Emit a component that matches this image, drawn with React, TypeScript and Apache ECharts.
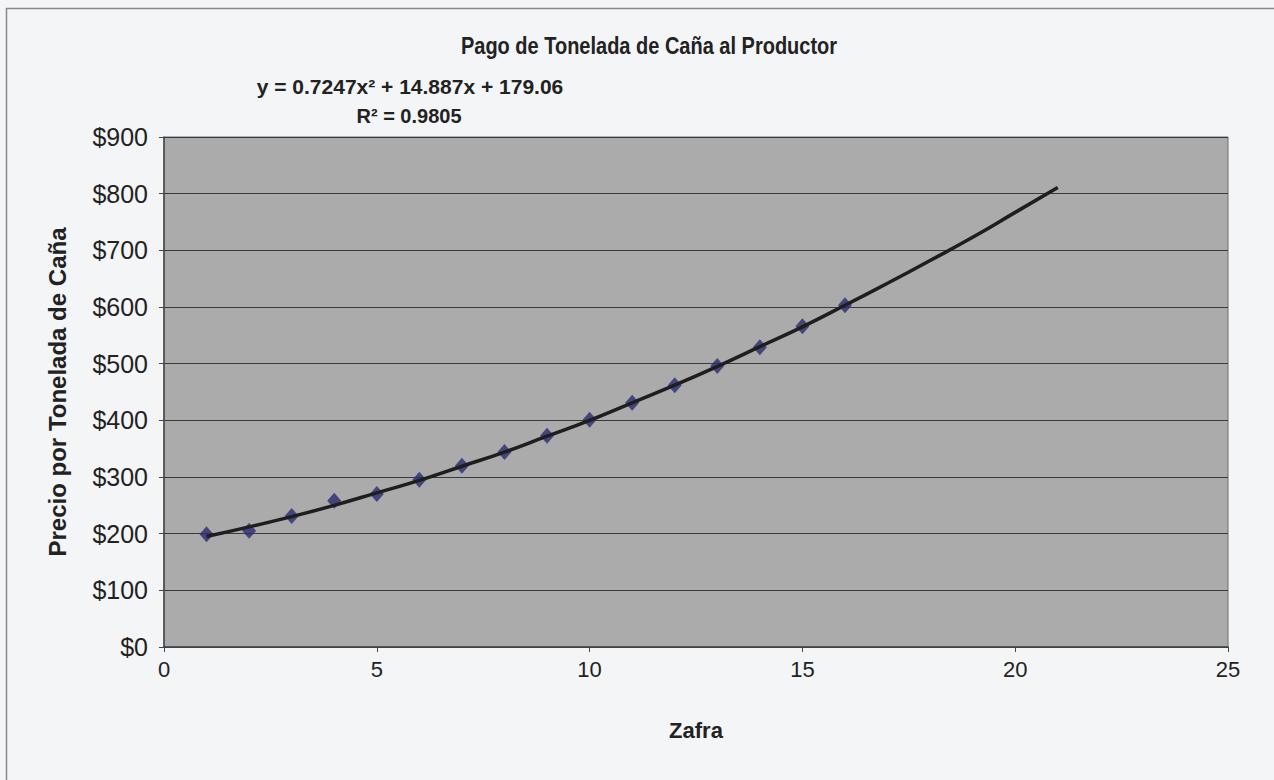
import React, { useEffect, useRef } from "react";
import * as echarts from "echarts";

const zafra = [1, 2, 3, 4, 5, 6, 7, 8, 9, 10, 11, 12, 13, 14, 15, 16];
const precio = [199, 205, 231, 258, 270, 295, 320, 344, 373, 401, 431, 462, 496, 529, 566, 603];
const trendX = [1, 2, 3, 4, 5, 6, 7, 8, 9, 10, 11, 12, 13, 14, 15, 16, 17, 18, 19, 20, 21];
const trendY = [195, 212, 230, 250, 272, 294, 319, 344, 372, 400, 431, 462, 495, 530, 565, 603, 642, 682, 723, 767, 811];
const title = "Pago de Tonelada de Caña al Productor";
const equation = "y = 0.7247x² + 14.887x + 179.06";
const rSquared = "R² = 0.9805";
const xName = "Zafra";
const yName = "Precio por Tonelada de Caña";

export default function App() {
  const ref = useRef<HTMLDivElement>(null);
  useEffect(() => {
    if (!ref.current) return;
    const chart = echarts.init(ref.current, null, { renderer: "svg" });
    const font = "'Liberation Sans', Arial, sans-serif";
    chart.setOption({
      animation: false,
      backgroundColor: "#f4f5f7",
      textStyle: { fontFamily: font },
      grid: {
        left: 164,
        top: 137,
        right: 46,
        bottom: 133,
        show: true,
        backgroundColor: "#ababab",
        borderColor: "#6e6e6e",
        borderWidth: 1,
      },
      xAxis: {
        type: "value",
        min: 0,
        max: 25,
        interval: 5,
        name: xName,
        nameLocation: "middle",
        nameGap: 72,
        nameTextStyle: { fontSize: 22, fontWeight: "bold", color: "#222", fontFamily: font },
        axisLine: { show: true, onZero: false, lineStyle: { color: "#444", width: 1.5 } },
        axisTick: { show: true, length: 5, lineStyle: { color: "#444" } },
        axisLabel: { fontSize: 22, color: "#222", margin: 11, fontFamily: font },
        splitLine: { show: false },
      },
      yAxis: {
        type: "value",
        min: 0,
        max: 900,
        interval: 100,
        name: yName,
        nameLocation: "middle",
        nameGap: 95,
        nameTextStyle: { fontSize: 24, fontWeight: "bold", color: "#222", fontFamily: font },
        axisLine: { show: true, lineStyle: { color: "#444", width: 1.5 } },
        axisTick: { show: true, length: 5, lineStyle: { color: "#444" } },
        axisLabel: { fontSize: 25, color: "#222", margin: 16, formatter: (v: number) => "$" + v, fontFamily: font },
        splitLine: { show: true, lineStyle: { color: "#3a3a3a", width: 1 } },
      },
      graphic: [
        {
          type: "rect",
          shape: { x: 6.5, y: 8.5, width: 1300, height: 800 },
          style: { fill: "none", stroke: "#8a8a8a", lineWidth: 1.5 },
          silent: true,
        },
        {
          type: "text",
          x: 649,
          y: 46,
          scaleY: 1.2,
          style: { text: title, fontSize: 20, fontWeight: "bold", fill: "#222", align: "center", verticalAlign: "middle", fontFamily: font },
        },
        {
          type: "text",
          x: 410,
          y: 86,
          style: { text: equation, fontSize: 21, fontWeight: "bold", fill: "#222", align: "center", verticalAlign: "middle", fontFamily: font },
        },
        {
          type: "text",
          x: 409,
          y: 116,
          style: { text: rSquared, fontSize: 20, fontWeight: "bold", fill: "#222", align: "center", verticalAlign: "middle", fontFamily: font },
        },
      ],
      series: [
        {
          type: "line",
          data: trendX.map((x, i) => [x, trendY[i]]),
          smooth: true,
          showSymbol: false,
          symbol: "none",
          lineStyle: { color: "#1e1e1e", width: 3.5 },
          z: 3,
        },
        {
          type: "scatter",
          data: zafra.map((x, i) => [x, precio[i]]),
          symbol: "diamond",
          symbolSize: [14, 16],
          itemStyle: { color: "#2b2c72" },
          z: 2,
        },
      ],
    });
    return () => chart.dispose();
  }, []);
  return <div ref={ref} style={{ position: "absolute", left: 0, top: 0, width: 1274, height: 780 }} />;
}
